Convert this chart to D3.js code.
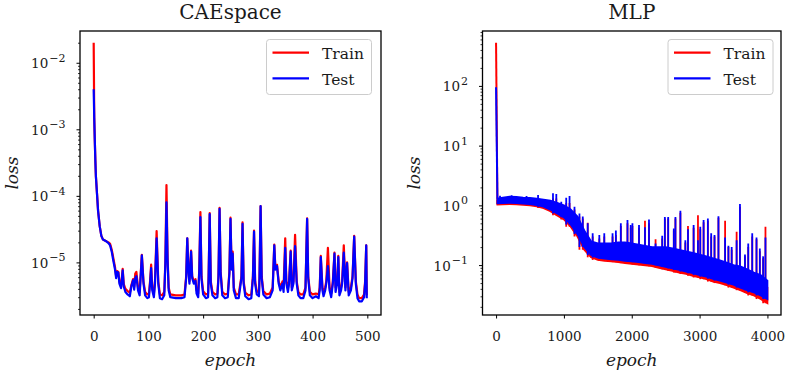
<!DOCTYPE html>
<html>
<head>
<meta charset="utf-8">
<script src="https://cdn.jsdelivr.net/npm/d3@7"></script>
<style>
body { margin: 0; background: #fff; }
text { font-family: "DejaVu Serif", "Liberation Serif", serif; fill: #1a1a1a; }
</style>
</head>
<body>
<svg id="chart" width="787" height="372"></svg>
<script>
// ---- CAEspace (500 epochs) ----
var caeEpochs = [0,1,2,3,4,6,8,11,14,17,
  22,27,30,33,36,39,41,43,45,47,
  50,53,55,58,62,66,69,72,74,76,
  78,81,84,88,91,94,98,101,103,105,
  107,110,112,115,118,121,125,129,131,133,
  135,137,140,150,160,166,169,171,173,175,
  178,180,183,186,188,191,193,195,197,200,
  205,209,210,212,214,217,222,226,228,230,
  232,235,240,245,248,250,252,254,256,260,
  265,270,272,274,277,283,288,291,293,295,
  298,302,303,305,307,310,316,322,327,330,
  332,335,338,341,345,347,350,352,355,357,
  360,362,365,368,371,374,378,383,387,390,
  392,395,400,406,411,413,415,418,420,423,
  425,428,431,434,437,440,442,445,447,449,
  452,454,457,460,463,466,470,473,476,479,
  482,485,490,494,496,498,499];
var caeTrain = [2e-2,1.5e-3,7e-4,3.5e-4,2e-4,1.1e-4,6e-5,3.5e-5,2.5e-5,2.2e-5,
  2.1e-5,2.0e-5,1.9e-5,1.55e-5,1.15e-5,8.5e-6,6.2e-6,7.4e-6,7.2e-6,5.2e-6,
  4.4e-6,8e-6,4.7e-6,4e-6,3.7e-6,3.5e-6,4.6e-6,5.6e-6,4.3e-6,6.8e-6,
  7.2e-6,4.2e-6,3.6e-6,1.3e-5,5.2e-6,3.6e-6,3.3e-6,3.4e-6,5.2e-6,9.3e-6,
  4.2e-6,3.4e-6,5.2e-6,2.95e-5,5.2e-6,3.3e-6,3.2e-6,3.6e-6,1.05e-5,1.45e-4,
  1.2e-5,4.2e-6,3.3e-6,3.2e-6,3.2e-6,3.3e-6,6.2e-6,2.3e-5,8.2e-6,5.2e-6,
  1.5e-5,6.2e-6,5.2e-6,5.6e-6,3.8e-6,3.4e-6,8.2e-6,5.7e-5,6.2e-6,3.7e-6,
  3.3e-6,3.4e-6,6.2e-6,5.5e-5,5.2e-6,3.6e-6,3.3e-6,3.4e-6,6.2e-6,6.6e-5,
  7.2e-6,3.6e-6,3.3e-6,3.4e-6,7.2e-6,4.7e-5,8.2e-6,1.45e-5,4.2e-6,3.3e-6,
  3.3e-6,6.2e-6,4e-5,5.2e-6,3.5e-6,3.2e-6,3.3e-6,6.2e-6,3e-5,5.2e-6,
  3.7e-6,3.5e-6,6.2e-6,7e-5,6.2e-6,3.7e-6,3.3e-6,3.4e-6,4.2e-6,1.85e-5,
  8.2e-6,9.2e-6,5.2e-6,4.2e-6,5.2e-6,4.2e-6,2.3e-5,5.2e-6,4.2e-6,5.2e-6,
  1.5e-5,4.2e-6,5.2e-6,2.6e-5,5.2e-6,3.6e-6,3.3e-6,3.3e-6,4.2e-6,4.6e-5,
  6.2e-6,3.6e-6,3.3e-6,3.4e-6,3.3e-6,4.2e-6,1.25e-5,4.2e-6,3.5e-6,4.2e-6,
  5.2e-6,1.65e-5,4.2e-6,3.4e-6,5.2e-6,1.4e-5,4.2e-6,5.2e-6,1.25e-5,3.6e-6,
  4.2e-6,5.2e-6,1.8e-5,4.2e-6,1e-5,3.6e-6,4.2e-6,6.2e-6,2.5e-5,5.2e-6,
  3.3e-6,2.9e-6,2.9e-6,3.3e-6,5.2e-6,1.8e-5,3.2e-6];
var caeTest = [4e-3,1.5e-3,7e-4,3.5e-4,2e-4,1.1e-4,6e-5,3.5e-5,2.5e-5,2.2e-5,
  2.1e-5,1.95e-5,1.8e-5,1.45e-5,1.05e-5,7.8e-6,5.8e-6,7.2e-6,7e-6,4.8e-6,
  4.1e-6,7.6e-6,4.3e-6,3.6e-6,3.3e-6,3.1e-6,4.4e-6,5.4e-6,3.9e-6,5.8e-6,
  6.2e-6,3.8e-6,3.2e-6,1.28e-5,4.8e-6,3.2e-6,2.9e-6,3e-6,4.8e-6,8.2e-6,
  3.8e-6,3e-6,4.8e-6,2.3e-5,4.8e-6,2.9e-6,2.8e-6,3.2e-6,9.5e-6,8e-5,
  1.1e-5,3.8e-6,3e-6,2.9e-6,2.9e-6,3e-6,5.8e-6,2.3e-5,7.8e-6,4.8e-6,
  1.45e-5,5.8e-6,4.8e-6,5.3e-6,3.4e-6,3e-6,7.6e-6,4.8e-5,5.6e-6,3.3e-6,
  2.9e-6,3e-6,5.8e-6,5.3e-5,4.8e-6,3.2e-6,2.9e-6,3e-6,5.8e-6,6.4e-5,
  6.8e-6,3.2e-6,2.9e-6,3e-6,6.8e-6,4.5e-5,7.8e-6,1.35e-5,3.8e-6,2.9e-6,
  2.9e-6,5.8e-6,3.8e-5,4.8e-6,3.1e-6,2.8e-6,2.9e-6,5.8e-6,2.9e-5,4.8e-6,
  3.3e-6,3.1e-6,5.8e-6,7e-5,5.8e-6,3.3e-6,2.9e-6,3e-6,3.8e-6,1.8e-5,
  7.8e-6,8.8e-6,4.8e-6,3.8e-6,4.8e-6,3.6e-6,1.65e-5,4.8e-6,3.6e-6,4.8e-6,
  1.45e-5,3.8e-6,4.8e-6,1.75e-5,4.8e-6,3.2e-6,2.9e-6,2.9e-6,3.8e-6,4.5e-5,
  5.8e-6,3.2e-6,2.9e-6,3.1e-6,2.9e-6,3.8e-6,1.2e-5,3.8e-6,3.1e-6,3.8e-6,
  4.8e-6,8.8e-6,3.8e-6,3e-6,4.8e-6,1.35e-5,3.6e-6,4.8e-6,1.2e-5,3.2e-6,
  3.8e-6,4.8e-6,1.4e-5,3.8e-6,9.8e-6,3.2e-6,3.8e-6,5.8e-6,2.45e-5,4.8e-6,
  2.9e-6,2.6e-6,2.6e-6,3e-6,4.8e-6,1.8e-5,2.9e-6];

// ---- MLP (4000 epochs) ----
// first epochs
var mlpHeadEpochs = [0, 20];
var mlpHeadTrain = [530, 1.03];
var mlpHeadTest = [95, 1.3];
// noisy band, low / high edge read every 100 epochs
var mlpBandEpochs = [20,100,200,300,400,500,600,700,800,900,
  1000,1100,1200,1300,1400,1500,1600,1700,1800,1900,
  2000,2100,2200,2300,2400,2500,2600,2700,2800,2900,
  3000,3100,3200,3300,3400,3500,3600,3700,3800,3900,4000];
var mlpTrainLow = [1.03,1.04,1.05,1.04,1.02,1.0,0.96,0.9,0.8,0.68,
  0.58,0.44,0.3,0.18,0.135,0.122,0.118,0.115,0.112,0.108,
  0.105,0.102,0.099,0.096,0.09,0.085,0.08,0.075,0.071,0.066,
  0.062,0.058,0.053,0.05,0.046,0.042,0.038,0.034,0.031,0.027,0.023];
var mlpTrainHigh = [1.2,1.25,1.28,1.27,1.25,1.22,1.18,1.12,1.05,0.95,
  0.85,0.7,0.5,0.3,0.2,0.18,0.18,0.18,0.18,0.18,
  0.17,0.17,0.16,0.15,0.15,0.14,0.14,0.13,0.12,0.12,
  0.11,0.1,0.095,0.09,0.08,0.075,0.07,0.065,0.058,0.05,0.042];
var mlpTestLow = [1.08,1.09,1.1,1.09,1.07,1.05,1.01,0.95,0.85,0.73,
  0.63,0.48,0.33,0.2,0.147,0.133,0.128,0.125,0.122,0.118,
  0.115,0.112,0.108,0.105,0.099,0.093,0.088,0.083,0.078,0.073,
  0.068,0.064,0.059,0.055,0.051,0.047,0.042,0.038,0.035,0.031,0.027];
var mlpTestHigh = [1.3,1.35,1.4,1.38,1.35,1.33,1.3,1.25,1.2,1.1,
  1.0,0.85,0.65,0.38,0.25,0.23,0.23,0.23,0.24,0.24,
  0.23,0.22,0.21,0.2,0.2,0.2,0.19,0.18,0.17,0.16,
  0.15,0.14,0.13,0.12,0.11,0.1,0.095,0.085,0.075,0.068,0.055];
// spikes sticking out of the band
var mlpSpikeEpochs = [58,229,449,619,839,888,961,1034,1083,1156,
  1229,1278,1351,1424,1522,1595,1717,1766,1839,1937,
  1985,2010,2107,2195,2254,2351,2449,2488,2537,2620,
  2644,2717,2790,2829,2912,2976,3010,3059,3122,3171,
  3220,3278,3376,3425,3473,3546,3595,3669,3717,3776,
  3839,3888,3937,3971];
var mlpTrainSpikes = [1.3,1.3,1.3,1.3,1.3,1.3,1.0,1.1,1.1,0.85,
  0.65,0.6,0.51,0.3,0.28,0.3,0.3,0.32,0.45,0.5,
  0.42,0.45,0.42,0.55,0.5,0.27,0.28,0.6,0.6,0.38,
  0.6,0.75,0.24,0.45,0.42,0.68,0.4,0.52,0.55,0.3,
  0.3,0.62,0.55,0.2,0.18,0.36,0.95,0.14,0.2,0.3,
  0.27,0.17,0.13,0.44];
var mlpTestSpikes = [1.45,1.48,1.43,1.49,1.59,1.55,1.15,1.34,1.43,0.95,
  0.73,0.65,0.5,0.34,0.32,0.34,0.34,0.38,0.5,0.57,
  0.47,0.5,0.47,0.43,0.58,0.23,0.31,0.64,0.64,0.41,
  0.64,0.81,0.26,0.4,0.47,0.26,0.44,0.57,0.6,0.34,
  0.32,0.66,0.29,0.21,0.2,0.26,1.05,0.15,0.23,0.34,
  0.29,0.19,0.14,0.29];

var caeXTicks = [0, 100, 200, 300, 400, 500];
var caeYExp = [-5, -4, -3, -2];
var mlpXTicks = [0, 1000, 2000, 3000, 4000];
var mlpYExp = [-1, 0, 1, 2];
var legendNames = ["Train", "Test"];
var RED = "#ff0000", BLUE = "#0000ff";

var svg = d3.select("#chart");

function drawFrame(id, x, y, title, xTicks, yExp) {
    var l = x.range()[0], r = x.range()[1], b = y.range()[0], t = y.range()[1];
    svg.append("clipPath").attr("id", id).append("rect")
        .attr("x", l).attr("y", t).attr("width", r - l).attr("height", b - t);

    // minor log ticks
    var minor = [];
    var d0 = Math.floor(Math.log10(y.domain()[0])), d1 = Math.ceil(Math.log10(y.domain()[1]));
    for (var d = d0; d <= d1; d++) {
        for (var k = 2; k < 10; k++) {
            var v = k * Math.pow(10, d);
            if (v > y.domain()[0] && v < y.domain()[1]) minor.push(v);
        }
    }
    var gm = svg.append("g").attr("transform", "translate(" + l + ",0)")
        .call(d3.axisLeft(y).tickValues(minor).tickSize(2).tickFormat(""));
    gm.select(".domain").remove();
    gm.selectAll("line").attr("stroke", "#000").attr("stroke-width", 0.8);

    var yVals = yExp.map(function(e) { return Math.pow(10, e); });
    var gy = svg.append("g").attr("transform", "translate(" + l + ",0)")
        .call(d3.axisLeft(y).tickValues(yVals).tickSize(3.5).tickFormat(""));
    gy.select(".domain").remove();
    gy.selectAll("line").attr("stroke", "#000").attr("stroke-width", 1);
    yExp.forEach(function(e) {
        var tx = svg.append("text").attr("x", l - 14.5).attr("y", y(Math.pow(10, e)) + 5.5)
            .attr("text-anchor", "end").style("font-size", "13.5px");
        tx.append("tspan").text("10");
        tx.append("tspan").attr("dy", -6.5).attr("dx", 1).style("font-size", "11px")
            .text(e < 0 ? "\u2212" + (-e) : "" + e);
    });

    var gx = svg.append("g").attr("transform", "translate(0," + b + ")")
        .call(d3.axisBottom(x).tickValues(xTicks).tickSize(3.5).tickPadding(13)
            .tickFormat(d3.format("d")));
    gx.select(".domain").remove();
    gx.selectAll("line").attr("stroke", "#000").attr("stroke-width", 1);
    gx.selectAll("text").style("font-size", "13.5px").attr("fill", "#1a1a1a")
        .style("font-family", "'DejaVu Serif', serif");

    svg.append("text").attr("x", (l + r) / 2).attr("y", 18.5)
        .attr("text-anchor", "middle").style("font-size", "20px").text(title);
    svg.append("text").attr("x", (l + r) / 2).attr("y", 366)
        .attr("text-anchor", "middle").style("font-size", "17px")
        .style("font-style", "italic").text("epoch");
    svg.append("text").attr("transform", "translate(" + (l - 62.5) + "," + ((t + b) / 2) + ") rotate(-90)")
        .attr("text-anchor", "middle").style("font-size", "17px")
        .style("font-style", "italic").text("loss");
}

function drawBorder(x, y) {
    var l = x.range()[0], r = x.range()[1], b = y.range()[0], t = y.range()[1];
    svg.append("rect").attr("x", l).attr("y", t).attr("width", r - l).attr("height", b - t)
        .attr("fill", "none").attr("stroke", "#000").attr("stroke-width", 1.3);
}

function drawLegend(x0, y0) {
    svg.append("rect").attr("x", x0).attr("y", y0).attr("width", 105).attr("height", 55)
        .attr("rx", 3).attr("fill", "#fff").attr("fill-opacity", 0.8)
        .attr("stroke", "#cccccc").attr("stroke-width", 1);
    [RED, BLUE].forEach(function(c, i) {
        var yy = y0 + 13.2 + i * 25.6;
        svg.append("line").attr("x1", x0 + 6).attr("x2", x0 + 42.5).attr("y1", yy).attr("y2", yy)
            .attr("stroke", c).attr("stroke-width", 2.2);
        svg.append("text").attr("x", x0 + 55.5).attr("y", yy + 6.3)
            .style("font-size", "15.5px").text(legendNames[i]);
    });
}

// ---- left panel ----
var x1 = d3.scaleLinear().domain([-25, 525]).range([80, 381]);
var y1 = d3.scaleLog().domain([1.62e-6, 0.030]).range([315, 31]);
drawFrame("clipL", x1, y1, "CAEspace", caeXTicks, caeYExp);

var caeLine = function(vals) {
    return d3.line()
        .x(function(d, i) { return x1(caeEpochs[i]); })
        .y(function(d) { return y1(d); })(vals);
};
var pl = svg.append("g").attr("clip-path", "url(#clipL)");
pl.append("path").attr("d", caeLine(caeTrain)).attr("fill", "none")
    .attr("stroke", RED).attr("stroke-width", 2.2).attr("stroke-linejoin", "round");
pl.append("path").attr("d", caeLine(caeTest)).attr("fill", "none")
    .attr("stroke", BLUE).attr("stroke-width", 2.2).attr("stroke-linejoin", "round");
drawBorder(x1, y1);
drawLegend(266.5, 39.5);

// ---- right panel ----
var x2 = d3.scaleLinear().domain([-200, 4200]).range([482.5, 781]);
var y2 = d3.scaleLog().domain([0.0146, 830]).range([315, 31]);
drawFrame("clipR", x2, y2, "MLP", mlpXTicks, mlpYExp);

var pr = svg.append("g").attr("clip-path", "url(#clipR)");

function band(low, high) {
    return d3.area()
        .x(function(d, i) { return x2(mlpBandEpochs[i]); })
        .y0(function(d, i) { return y2(low[i]); })
        .y1(function(d, i) { return y2(high[i]); })(low);
}
function headLine(vals) {
    return d3.line()
        .x(function(d, i) { return x2(mlpHeadEpochs[i]); })
        .y(function(d) { return y2(d); })(vals);
}
function spikes(g, peaks, low, color) {
    var bis = d3.bisector(function(d) { return d; }).left;
    peaks.forEach(function(p, i) {
        var e = mlpSpikeEpochs[i];
        var j = Math.min(bis(mlpBandEpochs, e), mlpBandEpochs.length - 1);
        g.append("line")
            .attr("x1", x2(e)).attr("x2", x2(e))
            .attr("y1", y2(low[j])).attr("y2", y2(p))
            .attr("stroke", color).attr("stroke-width", 1.8);
    });
}

pr.append("path").attr("d", headLine(mlpHeadTrain)).attr("fill", "none")
    .attr("stroke", RED).attr("stroke-width", 2);
pr.append("path").attr("d", band(mlpTrainLow, mlpTrainHigh))
    .attr("fill", RED).attr("stroke", RED).attr("stroke-width", 1.8);
spikes(pr, mlpTrainSpikes, mlpTrainLow, RED);

pr.append("path").attr("d", headLine(mlpHeadTest)).attr("fill", "none")
    .attr("stroke", BLUE).attr("stroke-width", 2);
pr.append("path").attr("d", band(mlpTestLow, mlpTestHigh))
    .attr("fill", BLUE).attr("stroke", BLUE).attr("stroke-width", 1.8);
spikes(pr, mlpTestSpikes, mlpTestLow, BLUE);

drawBorder(x2, y2);
drawLegend(668, 39.5);
</script>
</body>
</html>
